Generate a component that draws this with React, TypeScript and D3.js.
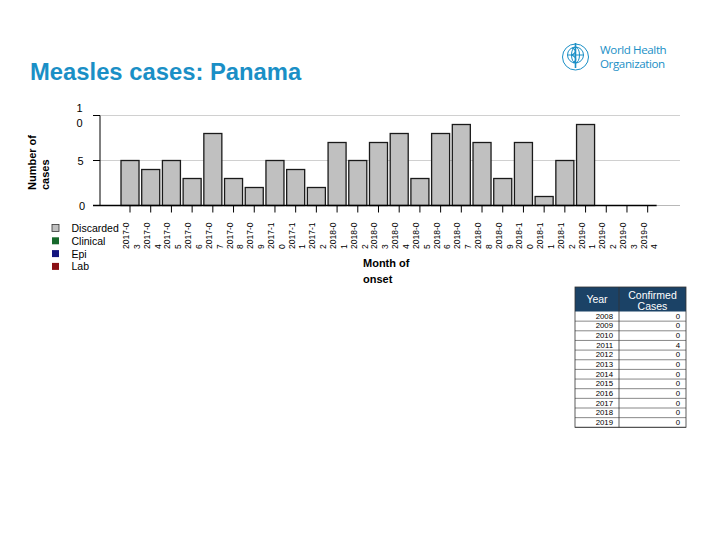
import React from "react";
import * as d3 from "d3";

const months = [
  "2017-03","2017-04","2017-05","2017-06","2017-07","2017-08","2017-09","2017-10","2017-11","2017-12",
  "2018-01","2018-02","2018-03","2018-04","2018-05","2018-06","2018-07","2018-08","2018-09","2018-10","2018-11","2018-12",
  "2019-01","2019-02","2019-03","2019-04",
];
const discarded = [5,4,5,3,8,3,2,5,4,2,7,5,7,8,3,8,9,7,3,7,1,5,9,0,0,0];
const yTicks = [0, 5, 10];
const legendItems = ["Discarded", "Clinical", "Epi", "Lab"];
const legendColors = ["#c0c0c0", "#17692b", "#14157f", "#8a1015"];
const tableYears = ["2008","2009","2010","2011","2012","2013","2014","2015","2016","2017","2018","2019"];
const tableCases = [0,0,0,4,0,0,0,0,0,0,0,0];

const FONT = "'Liberation Sans', Arial, sans-serif";
const BLUE = "#1a8fc6";

export default function App() {
  const W = 720, H = 540;
  const x = d3.scaleBand<string>().domain(months).range([100, 680]).paddingInner(0.13).paddingOuter(1.07).align(0.474);
  const y = d3.scaleLinear().domain([0, 10]).range([205.5, 115.5]);
  const bw = x.bandwidth();
  const lastEnd = (x(months[months.length - 1]) ?? 0) + bw;

  // table
  const tx0 = 575, tx1 = 619, tx2 = 686;
  const headTop = 287, headBot = 311.5, rowH = 9.65;
  const tableRows = d3.range(tableYears.length);

  return (
    <svg width={W} height={H} style={{ display: "block", position: "absolute", left: 0, top: 0 }} fontFamily={FONT}>
      <rect width={W} height={H} fill="#fff" />
      {/* title */}
      <text x={30} y={80} fontSize={23.8} fontWeight="bold" fill={BLUE}>Measles cases: Panama</text>

      {/* WHO logo */}
      <g stroke={BLUE} fill="none" strokeWidth={1}>
        <circle cx={575.5} cy={57} r={13} />
        <circle cx={575.5} cy={55} r={8} />
        <ellipse cx={575.5} cy={55} rx={4} ry={8} />
        <line x1={567.5} y1={55} x2={583.5} y2={55} />
        <line x1={575.5} y1={43} x2={575.5} y2={68} strokeWidth={1.6} />
        <path d="M572,48 Q579,51 572,55 Q579,59 573,63" strokeWidth={1.2} />
      </g>
      <text x={600} y={54} fontSize={11.6} fill={BLUE} fontFamily="'Open Sans', sans-serif" letterSpacing={-0.4}>World Health</text>
      <text x={600} y={67.5} fontSize={11.6} fill={BLUE} fontFamily="'Open Sans', sans-serif" letterSpacing={-0.4}>Organization</text>

      {/* gridlines */}
      {yTicks.filter(t => t > 0).map(t => (
        <line key={t} x1={100} x2={680} y1={y(t)} y2={y(t)} stroke="#d0d0d0" strokeWidth={1} />
      ))}
      <line x1={lastEnd} x2={680} y1={y(0)} y2={y(0)} stroke="#b8b8b8" strokeWidth={1} />

      {/* bars */}
      {months.map((m, i) => discarded[i] > 0 ? (
        <rect key={m} x={x(m)} y={y(discarded[i])} width={bw} height={y(0) - y(discarded[i])}
          fill="#c0c0c0" stroke="#1a1a1a" strokeWidth={1.3} />
      ) : null)}

      {/* axes */}
      <line x1={100} x2={100} y1={y(10)} y2={y(0)} stroke="#000" strokeWidth={1} />
      <line x1={93} x2={lastEnd} y1={y(0)} y2={y(0)} stroke="#000" strokeWidth={1.3} />
      {yTicks.map(t => (
        <line key={t} x1={93} x2={100} y1={y(t)} y2={y(t)} stroke="#000" strokeWidth={1} />
      ))}
      <text x={80.5} y={y(5)} fontSize={11} fill="#000" textAnchor="middle" dominantBaseline="central">5</text>
      <text x={82} y={y(0)} fontSize={11} fill="#000" textAnchor="middle" dominantBaseline="central">0</text>
      <text x={79.5} y={y(10) - 8} fontSize={11} fill="#000" textAnchor="middle" dominantBaseline="central">1</text>
      <text x={79.5} y={y(10) + 7} fontSize={11} fill="#000" textAnchor="middle" dominantBaseline="central">0</text>

      {months.map(m => {
        const cx = (x(m) ?? 0) + bw / 2;
        return (
          <g key={m}>
            <line x1={cx} x2={cx} y1={y(0)} y2={y(0) + 7} stroke="#000" strokeWidth={1} />
            <g transform={`translate(${cx},249) rotate(-90)`}>
              <text x={0} y={-4} fontSize={8.5} fill="#000" dominantBaseline="central">{m.slice(0, 6)}</text>
              <text x={0} y={6.8} fontSize={8.5} fill="#000" dominantBaseline="central">{m.slice(6)}</text>
            </g>
          </g>
        );
      })}

      {/* axis titles */}
      <g transform="translate(0,190) rotate(-90)">
        <text x={0} y={32} fontSize={11} fontWeight="bold" dominantBaseline="central">Number of</text>
        <text x={0} y={45} fontSize={11} fontWeight="bold" dominantBaseline="central">cases</text>
      </g>
      <text x={363} y={263} fontSize={11} fontWeight="bold" dominantBaseline="central">Month of</text>
      <text x={363} y={279} fontSize={11} fontWeight="bold" dominantBaseline="central">onset</text>

      {/* legend */}
      {legendItems.map((l, i) => (
        <g key={l}>
          <rect x={52} y={224.5 + i * 12.8} width={7} height={7} fill={legendColors[i]} stroke={i === 0 ? "#333" : "none"} strokeWidth={0.8} />
          <text x={71.5} y={228 + i * 12.8} fontSize={10.5} dominantBaseline="central">{l}</text>
        </g>
      ))}

      {/* table */}
      <rect x={tx0} y={headTop} width={tx2 - tx0} height={headBot - headTop} fill="#1b4266" />
      <text x={(tx0 + tx1) / 2} y={(headTop + headBot) / 2} fontSize={10.5} fill="#fff" textAnchor="middle" dominantBaseline="central">Year</text>
      <text x={(tx1 + tx2) / 2} y={294.5} fontSize={10.5} fill="#fff" textAnchor="middle" dominantBaseline="central">Confirmed</text>
      <text x={(tx1 + tx2) / 2} y={306} fontSize={10.5} fill="#fff" textAnchor="middle" dominantBaseline="central">Cases</text>
      {tableRows.map(i => (
        <g key={i}>
          <line x1={tx0} x2={tx2} y1={headBot + (i + 1) * rowH} y2={headBot + (i + 1) * rowH} stroke="#555" strokeWidth={0.7} />
          <text x={613} y={headBot + (i + 0.5) * rowH} fontSize={7.8} textAnchor="end" dominantBaseline="central">{tableYears[i]}</text>
          <text x={680} y={headBot + (i + 0.5) * rowH} fontSize={7.8} textAnchor="end" dominantBaseline="central">{tableCases[i]}</text>
        </g>
      ))}
      <rect x={tx0} y={headTop} width={tx2 - tx0} height={headBot - headTop + tableYears.length * rowH} fill="none" stroke="#333" strokeWidth={0.8} />
      <line x1={tx1} x2={tx1} y1={headTop} y2={headBot + tableYears.length * rowH} stroke="#333" strokeWidth={0.8} />
    </svg>
  );
}
